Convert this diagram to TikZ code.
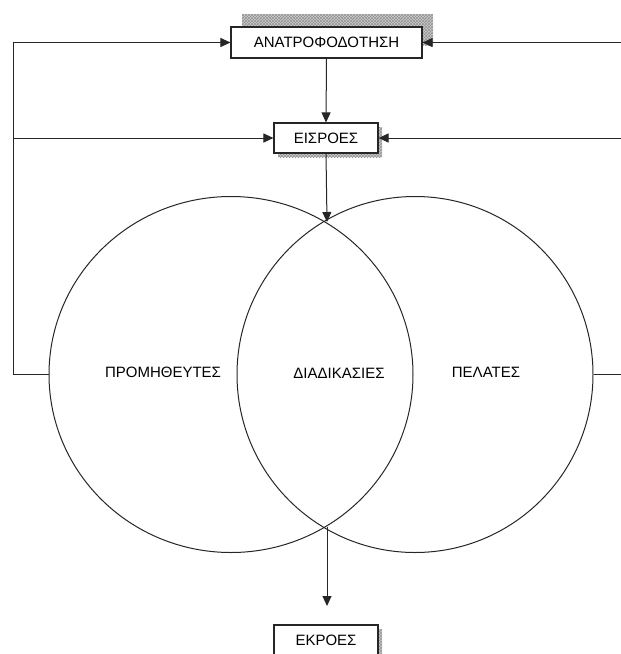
\documentclass[tikz,border=0pt]{standalone}
\usepackage{fontspec}
\setmainfont{Liberation Sans}
\usetikzlibrary{shapes.geometric,arrows.meta,patterns}
\begin{document}
\begin{tikzpicture}[x=1pt,y=-1pt,
  every node/.style={font=\fontsize{15}{18}\selectfont},
  ln/.style={draw=black!85,line width=1pt},
  arr/.style={ln,-{Triangle[length=10pt,width=9pt]}},
  boxn/.style={draw=black!85,line width=1.1pt,fill=white,inner sep=0pt,minimum height=31pt},
  shad/.style={fill=gray!40,postaction={pattern=crosshatch,pattern color=gray!85}},
  ring/.style={draw=black!85,line width=1pt,inner sep=0pt}]
\useasboundingbox (0,0) rectangle (621,654);
% shadows
\path[shad] (242,14) rectangle (433,45);
\path[shad] (278,127) rectangle (382,157);
\path[shad] (278,629) rectangle (382,660);
% boxes
\node[boxn,minimum width=191pt] (anat) at (326.5,42.5) {ΑΝΑΤΡΟΦΟΔΟΤΗΣΗ};
\node[boxn,minimum width=104pt,minimum height=30pt] (eis) at (326,138) {ΕΙΣΡΟΕΣ};
\node[boxn,minimum width=104pt] (ekr) at (326,640.5) {ΕΚΡΟΕΣ};
% circles
\node[ring,ellipse,minimum width=364pt,minimum height=356pt] (lc) at (231,374.5) {};
\node[ring,circle,minimum size=356pt] (rc) at (415,374.5) {};
\coordinate (top) at (327,222);
\coordinate (bot) at (327,527);
\coordinate (below) at (327,606);
% labels
\node (prom) at (163,372) {ΠΡΟΜΗΘΕΥΤΕΣ};
\node (diad) at (339,373) {ΔΙΑΔΙΚΑΣΙΕΣ};
\node (pel) at (486,372) {ΠΕΛΑΤΕΣ};
% free ends / corners
\coordinate (cl) at (13,374.5);
\coordinate (tl) at (13,42.5);
\coordinate (ml) at (13,138);
\coordinate (tr) at (625,42.5);
\coordinate (mr) at (625,138);
\coordinate (br) at (625,374.5);
% connectors
\draw[arr] (lc.west) -- (cl) -- (tl) -- (anat.west);
\draw[arr] (ml) -- (eis.west);
\draw[arr] (tr) -- (anat.east);
\draw[arr] (mr) -- (eis.east);
\draw[ln] (rc.east) -- (br);
\draw[arr] (anat.south) -- (eis.north);
\draw[arr] (eis.south) -- (top);
\draw[arr] (bot) -- (below);
\end{tikzpicture}
\end{document}
